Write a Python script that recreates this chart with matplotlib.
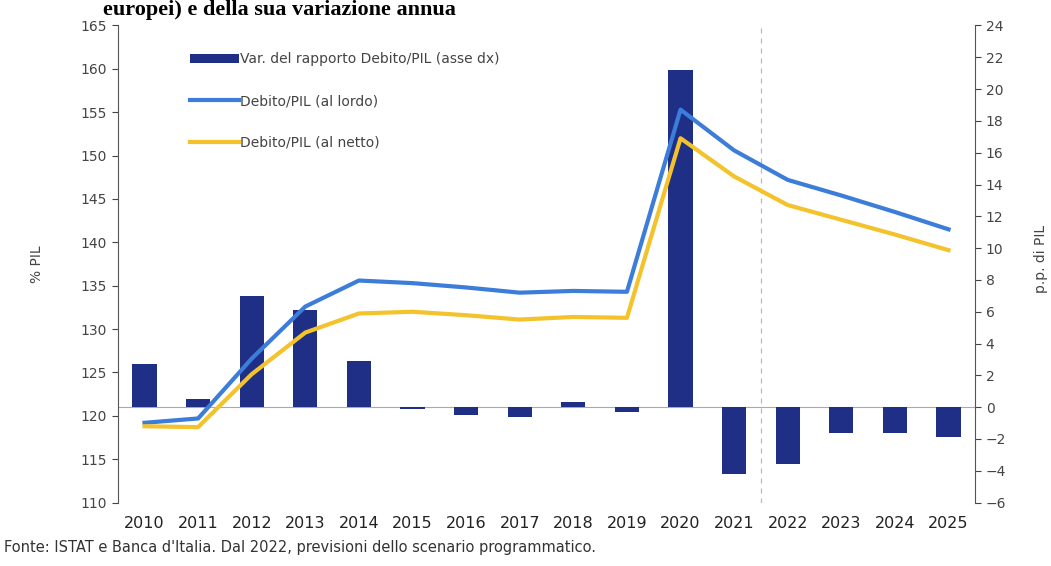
import matplotlib.pyplot as plt
import numpy as np

years = [str(y) for y in range(2010, 2026)]
var_debito = [2.7, 0.5, 7.0, 6.1, 2.9, -0.1, -0.5, -0.6, 0.3, -0.3,
              21.2, -4.2, -3.6, -1.6, -1.6, -1.85]
debito_lordo = [119.2, 119.7, 126.6, 132.6, 135.6, 135.3, 134.8, 134.2, 134.4, 134.3,
                155.3, 150.6, 147.2, 145.4, 143.5, 141.5]
debito_netto = [118.8, 118.7, 124.8, 129.6, 131.8, 132.0, 131.6, 131.1, 131.4, 131.3,
                152.0, 147.6, 144.3, 142.6, 140.9, 139.1]

navy = '#1f2f86'
blue = '#3b7dd8'
yellow = '#f4c22b'
grey = '#444444'

fig = plt.figure(figsize=(10.51, 5.66), dpi=100)
ax = fig.add_axes([0.112, 0.112, 0.816, 0.843])
ax2 = ax.twinx()

x = np.arange(len(years))

# bars on right axis
ax2.bar(x, var_debito, width=0.45, color=navy, label='Var. del rapporto Debito/PIL (asse dx)', zorder=2)
ax2.axhline(0, color='#aaaaaa', lw=0.8, zorder=1)
ax2.axvline(11.5, color='#bbbbbb', lw=0.9, ls=(0, (4, 4)), zorder=1)
ax2.set_ylim(-6, 24)
ax2.set_yticks(range(-6, 25, 2))

# lines on left axis, drawn above bars
ax.set_zorder(ax2.get_zorder() + 1)
ax.patch.set_visible(False)
ax.plot(x, debito_lordo, color=blue, lw=3, label='Debito/PIL (al lordo)')
ax.plot(x, debito_netto, color=yellow, lw=3, label='Debito/PIL (al netto)')
ax.set_ylim(110, 165)
ax.set_yticks(range(110, 166, 5))
ax.set_xlim(-0.5, len(years) - 0.5)
ax.set_xticks(x)
ax.set_xticklabels(years)

for a in (ax, ax2):
    a.spines['top'].set_visible(False)
    a.spines['bottom'].set_visible(False)
    a.tick_params(axis='y', colors=grey, labelsize=10, length=4)
ax.spines['left'].set_color('#555555')
ax2.spines['right'].set_color('#555555')
ax.spines['right'].set_visible(False)
ax2.spines['left'].set_visible(False)
ax.tick_params(axis='x', length=0, labelsize=11.5, labelcolor='#222222', pad=10)

ax.set_ylabel('% PIL', color=grey, fontsize=10)
ax.yaxis.set_label_coords(-0.086, 0.5)
ax2.set_ylabel('p.p. di PIL', color=grey, fontsize=10)
ax2.yaxis.set_label_coords(1.068, 0.51)

h1, l1 = ax2.get_legend_handles_labels()
h2, l2 = ax.get_legend_handles_labels()
ax.legend(h1 + h2, l1 + l2, loc='upper left', bbox_to_anchor=(0.07, 0.97), frameon=False,
          fontsize=10, labelcolor=grey, handlelength=3.5, handletextpad=0.1, labelspacing=2.0)

fig.text(0.098, 1.0, 'europei) e della sua variazione annua', family='Liberation Serif',
         fontweight='bold', fontsize=16, va='top', ha='left')
fig.text(0.004, 0.032, "Fonte: ISTAT e Banca d'Italia. Dal 2022, previsioni dello scenario programmatico.",
         fontsize=10.5, color='#333333', va='center')

fig.savefig('out.png', dpi=100)
